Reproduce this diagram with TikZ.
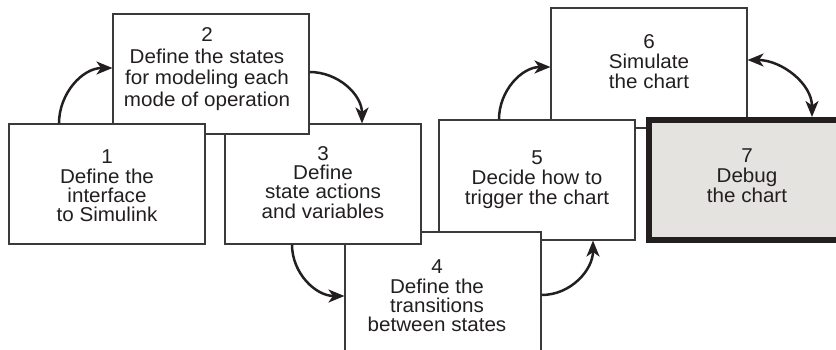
\documentclass[tikz,border=0pt]{standalone}
\usepackage{fontspec}
\setmainfont{Liberation Sans}[FakeStretch=1.03]
\usetikzlibrary{arrows.meta}
\definecolor{ink}{HTML}{231F20}
\definecolor{edge}{HTML}{3A3A3A}
\definecolor{boxgray}{HTML}{E4E3E0}
\begin{document}
\begin{tikzpicture}[x=1pt,y=1pt,
  box/.style={draw=edge, line width=1.1pt, fill=white, minimum width=196pt, minimum height=120pt, inner sep=0pt},
  lbl/.style={text=ink, align=center, inner sep=0pt, font=\fontsize{20}{20}\selectfont},
  tight/.style={font=\fontsize{20}{19.2}\selectfont},
  loose/.style={font=\fontsize{20}{21.6}\selectfont},
  tipA/.tip={Stealth[length=16pt,width=13pt,inset=4.5pt]},
  arr/.style={draw=ink, line width=2.5pt, -tipA},
  darr/.style={draw=ink, line width=2.5pt, tipA-tipA}]
\useasboundingbox (0,0) rectangle (836,349);
\begin{scope}
\clip (0,0) rectangle (836,349);
% back to front
\node[box] (b6) at (649,281) {};
\node[lbl] (t6) at ([yshift=6pt]b6.center) {6\\Simulate\\the chart};
\node[box, fill=boxgray, line width=6pt, draw=ink] (b7) at (747,169) {};
\node[lbl] (t7) at ([yshift=4pt]b7.center) {7\\Debug\\the chart};
\node[box] (b5) at (537,169) {};
\node[lbl] (t5) at (b5.center) {5\\Decide how to\\trigger the chart};
\node[box] (b4) at (443,57) {};
\node[lbl, tight] (t4) at ([xshift=-6pt,yshift=-4pt]b4.center) {4\\Define the\\transitions\\between states};
\node[box] (b3) at (323,165) {};
\node[lbl, tight] (t3) at ([yshift=1.5pt]b3.center) {3\\Define\\state actions\\and variables};
\node[box] (b2) at (211,275) {};
\node[lbl, loose] (t2) at ([xshift=-4pt,yshift=5pt]b2.center) {2\\Define the states\\for modeling each\\mode of operation};
\node[box] (b1) at (107,165) {};
\node[lbl, tight] (t1) at ([yshift=-2pt]b1.center) {1\\Define the\\interface\\to Simulink};
\end{scope}
% connectors
\draw[arr] ([xshift=-48pt]b1.north) to[out=90,in=180] ([yshift=6pt]b2.west);
\draw[arr] ([yshift=2pt]b2.east) to[out=0,in=90] ([xshift=39pt]b3.north);
\draw[arr] ([xshift=-31pt]b3.south) to[out=-90,in=180] ([yshift=-4pt]b4.west);
\draw[arr] ([yshift=-3pt]b4.east) to[out=0,in=-90] ([xshift=56pt]b5.south);
\draw[arr] ([xshift=-38pt]b5.north) to[out=90,in=180] ([yshift=1pt]b6.west);
\draw[darr] ([yshift=8pt]b6.east) to[out=0,in=90] ([xshift=65pt]b7.north);
\end{tikzpicture}
\end{document}
